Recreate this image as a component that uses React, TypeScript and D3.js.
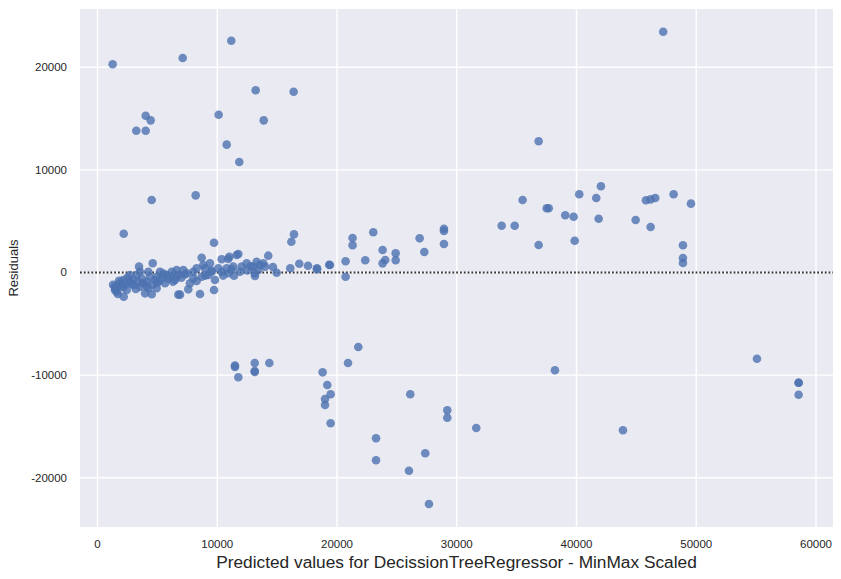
import React from "react";
import * as d3 from "d3";

// Predicted values (x) and residuals (y)
const predicted: number[] = [
  1265, 7115, 11173, 13210, 16380, 4025, 4440, 3240, 4025, 10120, 13880, 10790, 11840, 8200, 4525,
  2190, 9730, 16410, 16190, 47240,
  19410, 20720, 20720, 21300, 21300, 22360, 23030, 23810, 24030, 23810, 24900, 24900, 26900, 27290,
  28930, 28930, 28930,
  36840, 35500, 37510, 37680, 39060, 33750, 34840, 36840, 39760, 39850, 40230, 41650, 42040, 41850,
  44940, 45800, 46190, 46580, 46190, 48110, 49560, 48890, 48890, 48890,
  38200, 43880, 55070, 58550, 58550, 58550,
  11480, 11480, 11760, 13130, 13130, 13130, 14350, 18800, 19190, 19470, 19000, 19000, 19470, 20920,
  21780, 23260, 23260, 26120, 26010, 27370, 27680, 29210, 29210, 31630,
  14260, 13290, 14650, 14960, 13130, 16100, 16850, 17580, 18330, 18330, 19350,
  11760, 11010, 10370, 8700, 4610, 3470, 9730, 8560, 6750, 6890, 7580, 4530, 3970, 2190, 1600, 1440,
  4940, 8280,
  12460, 11340, 11400, 10370, 9810, 8830, 8700, 8000, 7720, 7170, 6610, 6470, 5780, 5220, 4800, 4240,
  4110, 3270, 3550, 2710, 2710, 2150, 1880, 1600, 2150, 2440, 2990, 3550, 3820, 4240, 4380, 4940,
  5360, 5640, 6050, 6200, 6750, 7450, 8000, 8280, 8980, 9250, 9540, 9390, 10090, 10790, 10920, 11900,
  12040, 13010, 13570, 13840, 13150, 13990, 13430, 10920, 11620, 1460,
  1300, 1800, 2500, 3000, 3700, 5000, 5500, 6300, 7000, 9000, 10500, 12500, 2300, 3200, 4600, 1700,
  1500, 2000, 2800, 3400, 4100, 5200, 5900, 6600, 7300, 9500, 11200, 12800,
];

const residuals: number[] = [
  20300, 20900, 22590, 17760, 17620, 15280, 14830, 13820, 13820, 15380, 14830, 12460, 10770, 7520, 7070,
  3780, 2900, 3720, 3000, 23470,
  730, 1090, -410, 3360, 2650, 1190, 3920, 2190, 1220, 890, 1870, 1190, 3330, 2000,
  4270, 4040, 2780,
  12790, 7070, 6260, 6260, 5580, 4560, 4560, 2680, 5440, 3100, 7620, 7260, 8400, 5240,
  5120, 7040, 7130, 7260, 4430, 7620, 6710, 2650, 1410, 930,
  -9530, -15380, -8400, -10740, -10740, -11910,
  -9080, -9200, -10210, -8820, -9700, -9600, -8820, -9730, -10970, -11870, -12330, -12910, -14700, -8820,
  -7260, -16160, -18300, -11870, -19320, -17620, -22560, -13430, -14150, -15160,
  1640, 1050, 540, -20, -80, 410, 860, 660, 410, 310, 760,
  1800, 1540, 1290, 1440, 900, 570, -1710, -2100, -2160, -2160, -1640, -2120, -2030, -2360, -1870, -1380,
  -1540, -830,
  900, 570, -310, 80, -730, 730, -410, -570, -1050, 240, 240, -730, -240, 80, -730, 80,
  -900, -240, 80, -240, -900, -730, -1050, -1440, -1440, -1710, -1220, -1380, -1050, -1540, -410, -410,
  -570, -1050, -410, 80, -240, -80, 80, 410, 410, -240, 80, 900, 410, 410, -80, 80,
  570, 570, 730, 900, -340, 570, 240, 1320, 1700, -1710,
  -1200, -800, -500, -700, -600, -1000, -100, -900, -500, -300, -300, 200, -1100, -1600, -1200, -2100,
  -1600, -1300, -1100, -900, -1300, -800, -600, -400, -200, 200, 300, 600,
];

const xTicks: number[] = [0, 10000, 20000, 30000, 40000, 50000, 60000];
const yTicks: number[] = [-20000, -10000, 0, 10000, 20000];
const xLabel = "Predicted values for DecissionTreeRegressor - MinMax Scaled";
const yLabel = "Residuals";

export default function App() {
  const W = 841;
  const H = 579;
  const left = 80, right = 833, top = 9, bottom = 527;
  const x = d3.scaleLinear().domain([-1461, 61420]).range([left, right]);
  const y = d3.scaleLinear().domain([-24805, 25682]).range([bottom, top]);
  const pts = predicted.map((p, i) => ({ p, r: residuals[i] }));
  const font = "Arial, 'Liberation Sans', sans-serif";
  const txt = "#262626";
  return (
    <svg width={W} height={H} style={{ position: "absolute", left: 0, top: 0, background: "#fff" }}>
      <rect x={left} y={top} width={right - left} height={bottom - top} fill="#EAEAF2" />
      {xTicks.map((t) => (
        <line key={"gx" + t} x1={x(t)} x2={x(t)} y1={top} y2={bottom} stroke="#fff" strokeWidth={1.4} />
      ))}
      {yTicks.map((t) => (
        <line key={"gy" + t} x1={left} x2={right} y1={y(t)} y2={y(t)} stroke="#fff" strokeWidth={1.4} />
      ))}
      <line x1={left} x2={right} y1={y(0)} y2={y(0)} stroke="#333333" strokeWidth={2} strokeDasharray="1.8,2" />
      {pts.map((d, i) => (
        <circle key={i} cx={x(d.p)} cy={y(d.r)} r={4.3} fill="#4C72B0" fillOpacity={0.8} />
      ))}
      {xTicks.map((t) => (
        <text key={"tx" + t} x={x(t)} y={548} textAnchor="middle" fontFamily={font} fontSize={11.5} fill={txt}>
          {String(t)}
        </text>
      ))}
      {yTicks.map((t) => (
        <text key={"ty" + t} x={67} y={y(t) + 4} textAnchor="end" fontFamily={font} fontSize={11.5} fill={txt}>
          {String(t)}
        </text>
      ))}
      <text x={(left + right) / 2} y={568} textAnchor="middle" fontFamily={font} fontSize={17.3} fill={txt}>
        {xLabel}
      </text>
      <text
        transform={`translate(18,${(top + bottom) / 2}) rotate(-90)`}
        textAnchor="middle"
        fontFamily={font}
        fontSize={13}
        fill={txt}
      >
        {yLabel}
      </text>
    </svg>
  );
}
